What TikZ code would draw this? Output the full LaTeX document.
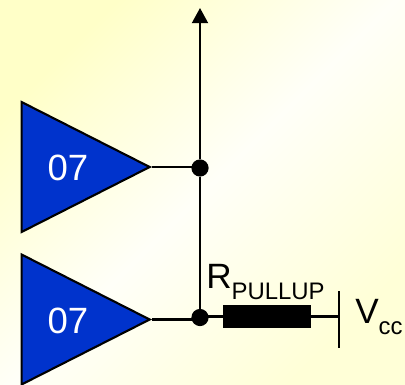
\documentclass[tikz,border=0pt]{standalone}
\usepackage{fontspec}
\setmainfont{Liberation Sans}
\usetikzlibrary{arrows.meta,positioning,shapes.geometric}
\definecolor{gateblue}{RGB}{0,51,204}
\definecolor{paperA}{RGB}{255,255,200}
\definecolor{paperB}{RGB}{255,255,248}
\definecolor{paperC}{RGB}{255,255,215}
\tikzset{
  >=Stealth,
  gate/.style={isosceles triangle, isosceles triangle apex angle=53.8, draw=black, line width=1.5pt, fill=gateblue, inner sep=0pt, minimum height=3.2cm, anchor=apex},
  gatelbl/.style={text=white, font=\fontsize{26}{26}\selectfont, inner sep=0pt},
  wire/.style={line width=1.5pt},
  dot/.style={circle, fill=black, inner sep=0pt, minimum size=0.43cm},
  res/.style={rectangle, fill=black, inner sep=0pt, minimum width=2.2cm, minimum height=0.58cm},
  lbl/.style={font=\fontsize{25}{25}\selectfont, inner sep=0pt, anchor=base west},
}
\newcommand{\subtxt}[1]{\raisebox{-0.28cm}{\fontsize{17}{17}\selectfont #1}}
\begin{document}
\begin{tikzpicture}[x=0.025cm, y=-0.025cm]
    % Background
    \shade[left color=paperA, right color=paperC, middle color=paperB, shading angle=45] (0,0) rectangle (405,385);
    \useasboundingbox (0,0) rectangle (405,385);

    % Drivers
    \node[gate] (g1) at (152,167) {};
    \node[gate] (g2) at (152,319.5) {};
    \node[gatelbl] (t1) at (68,168) {07};
    \node[gatelbl] (t2) at (68,321) {07};

    % Junctions
    \node[dot] (j1) at (200,168) {};
    \node[dot] (j2) at (200,317.5) {};
    \coordinate (top) at (200,8);

    % Pull-up
    \node[res] (rp) at (267,316.5) {};
    \coordinate (vt) at (339,291);
    \coordinate (vb) at (339,348);
    \coordinate (vm) at (339,316.5);

    % Wires
    \draw[wire] (g1.apex) -- (g1.apex -| j1);
    \draw[wire] (g2.apex) -- (g2.apex -| j2);
    \draw[wire] (j2) -- (j1);
    \draw[wire, -{Triangle[length=0.38cm,width=0.4cm]}] (j1) -- (top);
    \draw[wire] (j2.center |- rp) -- (rp);
    \draw[wire] (rp) -- (vm);
    \draw[wire] (vt) -- (vb);

    % Labels
    \node[lbl] (rl) at (206,288) {R\subtxt{PULLUP}};
    \node[lbl] (vl) at (355,323) {V\subtxt{cc}};
\end{tikzpicture}
\end{document}
